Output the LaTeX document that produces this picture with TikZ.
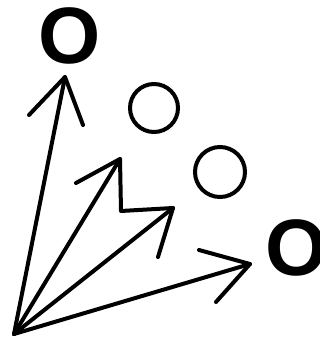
\documentclass[tikz,border=0pt]{standalone}
\usepackage{fontspec}
\newfontfamily\lblfont{Liberation Sans}
\begin{document}
\begin{tikzpicture}[x=1pt,y=-1pt,
  stroke/.style={line width=4pt,line cap=round,line join=round},
  ring/.style={line width=4pt},
  bigO/.style={inner sep=0pt,font=\lblfont\bfseries\fontsize{80}{80}\selectfont}]
\useasboundingbox (0,0) rectangle (320,340);
% origin and tips
\coordinate (o) at (14,334);
\coordinate (t1) at (65,77);
\coordinate (t2) at (120,159);
\coordinate (t3) at (173,208);
\coordinate (t4) at (250,264);
% barbs
\coordinate (b1l) at (29,115);
\coordinate (b1r) at (83,125);
\coordinate (b2l) at (76,183);
\coordinate (k) at (121,211);
\coordinate (b3r) at (158,257);
\coordinate (b4u) at (199,250);
\coordinate (b4d) at (216,302);
% shafts
\draw[stroke] (o) -- (t1);
\draw[stroke] (o) -- (t2);
\draw[stroke] (o) -- (t3);
\draw[stroke] (o) -- (t4);
% heads
\draw[stroke] (b1l) -- (t1) -- (b1r);
\draw[stroke] (b2l) -- (t2) -- (k) -- (t3) -- (b3r);
\draw[stroke] (b4u) -- (t4) -- (b4d);
% circles
\node[draw,ring,circle,minimum size=48pt,inner sep=0pt] (c1) at (154,108) {};
\node[draw,ring,circle,minimum size=50pt,inner sep=0pt] (c2) at (220,172) {};
% letters
\node[bigO] (o1) at (70,35.5) {O};
\node[bigO] (o2) at (297,248) {O};
\end{tikzpicture}
\end{document}
